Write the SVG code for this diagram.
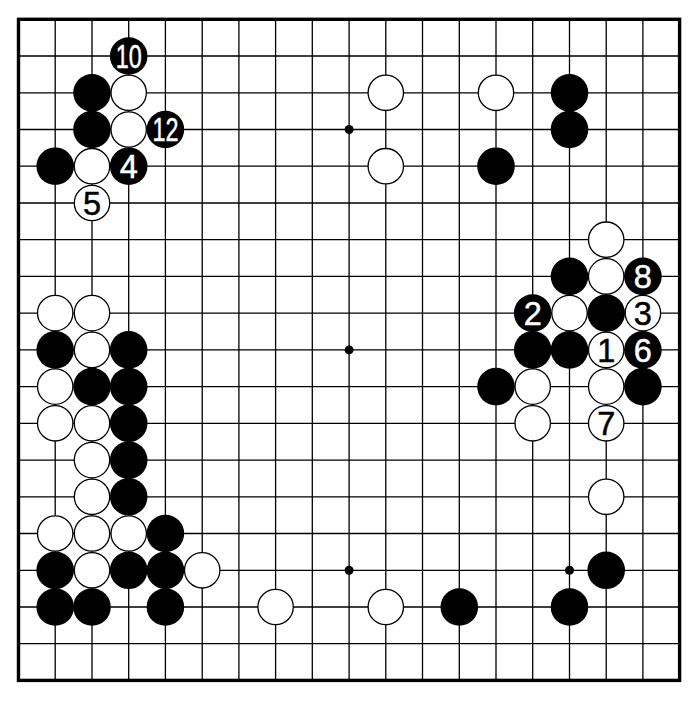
<svg xmlns="http://www.w3.org/2000/svg" width="700" height="701" viewBox="0 0 700 701">
<style>
.g{stroke:#000;stroke-width:1.3;fill:none}
.f{stroke:#000;stroke-width:3.4;fill:none}
.b{fill:#000}
.w{fill:#fff;stroke:#000;stroke-width:1.3}
.h{fill:#000}
.t{font-family:"Liberation Sans",Arial,sans-serif;font-size:32.5px;text-anchor:middle;stroke-width:0.5}
.tw{fill:#fff;stroke:#fff}
.tb{fill:#000;stroke:#000}
</style>
<rect width="700" height="701" fill="#fff"/>
<g id="board">
<path class="g" d="M55.2 19.3V680.4M92 19.3V680.4M128.7 19.3V680.4M165.4 19.3V680.4M202.2 19.3V680.4M238.9 19.3V680.4M275.6 19.3V680.4M312.3 19.3V680.4M349.1 19.3V680.4M385.8 19.3V680.4M422.5 19.3V680.4M459.3 19.3V680.4M496 19.3V680.4M532.7 19.3V680.4M569.5 19.3V680.4M606.2 19.3V680.4M642.9 19.3V680.4
M18.5 56H679.6M18.5 92.8H679.6M18.5 129.5H679.6M18.5 166.2H679.6M18.5 203H679.6M18.5 239.7H679.6M18.5 276.4H679.6M18.5 313.1H679.6M18.5 349.9H679.6M18.5 386.6H679.6M18.5 423.3H679.6M18.5 460.1H679.6M18.5 496.8H679.6M18.5 533.5H679.6M18.5 570.3H679.6M18.5 607H679.6M18.5 643.7H679.6"/>
<rect class="f" x="18.5" y="19.3" width="661.1" height="661.1"/>
<circle class="h" cx="349.1" cy="129.5" r="4.5"/>
<circle class="h" cx="349.1" cy="349.9" r="4.5"/>
<circle class="h" cx="349.1" cy="570.3" r="4.5"/>
<circle class="h" cx="569.5" cy="570.3" r="4.5"/>
</g>
<g id="black-stones">
<circle class="b" cx="92" cy="92.8" r="18.8"/>
<circle class="b" cx="92" cy="129.5" r="18.8"/>
<circle class="b" cx="55.2" cy="166.2" r="18.8"/>
<circle class="b" cx="569.5" cy="92.8" r="18.8"/>
<circle class="b" cx="569.5" cy="129.5" r="18.8"/>
<circle class="b" cx="496" cy="166.2" r="18.8"/>
<circle class="b" cx="569.5" cy="276.4" r="18.8"/>
<circle class="b" cx="606.2" cy="313.1" r="18.8"/>
<circle class="b" cx="532.7" cy="349.9" r="18.8"/>
<circle class="b" cx="569.5" cy="349.9" r="18.8"/>
<circle class="b" cx="496" cy="386.6" r="18.8"/>
<circle class="b" cx="642.9" cy="386.6" r="18.8"/>
<circle class="b" cx="606.2" cy="570.3" r="18.8"/>
<circle class="b" cx="569.5" cy="607" r="18.8"/>
<circle class="b" cx="459.3" cy="607" r="18.8"/>
<circle class="b" cx="55.2" cy="349.9" r="18.8"/>
<circle class="b" cx="128.7" cy="349.9" r="18.8"/>
<circle class="b" cx="92" cy="386.6" r="18.8"/>
<circle class="b" cx="128.7" cy="386.6" r="18.8"/>
<circle class="b" cx="128.7" cy="423.3" r="18.8"/>
<circle class="b" cx="128.7" cy="460.1" r="18.8"/>
<circle class="b" cx="128.7" cy="496.8" r="18.8"/>
<circle class="b" cx="165.4" cy="533.5" r="18.8"/>
<circle class="b" cx="55.2" cy="570.3" r="18.8"/>
<circle class="b" cx="128.7" cy="570.3" r="18.8"/>
<circle class="b" cx="165.4" cy="570.3" r="18.8"/>
<circle class="b" cx="55.2" cy="607" r="18.8"/>
<circle class="b" cx="92" cy="607" r="18.8"/>
<circle class="b" cx="165.4" cy="607" r="18.8"/>
</g>
<g id="white-stones">
<circle class="w" cx="128.7" cy="92.8" r="17.7"/>
<circle class="w" cx="128.7" cy="129.5" r="17.7"/>
<circle class="w" cx="92" cy="166.2" r="17.7"/>
<circle class="w" cx="385.8" cy="92.8" r="17.7"/>
<circle class="w" cx="385.8" cy="166.2" r="17.7"/>
<circle class="w" cx="496" cy="92.8" r="17.7"/>
<circle class="w" cx="606.2" cy="239.7" r="17.7"/>
<circle class="w" cx="606.2" cy="276.4" r="17.7"/>
<circle class="w" cx="569.5" cy="313.1" r="17.7"/>
<circle class="w" cx="532.7" cy="386.6" r="17.7"/>
<circle class="w" cx="606.2" cy="386.6" r="17.7"/>
<circle class="w" cx="532.7" cy="423.3" r="17.7"/>
<circle class="w" cx="606.2" cy="496.8" r="17.7"/>
<circle class="w" cx="55.2" cy="313.1" r="17.7"/>
<circle class="w" cx="92" cy="313.1" r="17.7"/>
<circle class="w" cx="92" cy="349.9" r="17.7"/>
<circle class="w" cx="55.2" cy="386.6" r="17.7"/>
<circle class="w" cx="55.2" cy="423.3" r="17.7"/>
<circle class="w" cx="92" cy="423.3" r="17.7"/>
<circle class="w" cx="92" cy="460.1" r="17.7"/>
<circle class="w" cx="92" cy="496.8" r="17.7"/>
<circle class="w" cx="55.2" cy="533.5" r="17.7"/>
<circle class="w" cx="92" cy="533.5" r="17.7"/>
<circle class="w" cx="128.7" cy="533.5" r="17.7"/>
<circle class="w" cx="92" cy="570.3" r="17.7"/>
<circle class="w" cx="202.2" cy="570.3" r="17.7"/>
<circle class="w" cx="275.6" cy="607" r="17.7"/>
<circle class="w" cx="385.8" cy="607" r="17.7"/>
</g>
<g id="move-1"><circle class="w" cx="606.2" cy="349.9" r="17.7"/><text class="t tb" x="606.2" y="361.5">1</text></g>
<g id="move-2"><circle class="b" cx="532.7" cy="313.1" r="18.8"/><text class="t tw" x="532.7" y="324.7">2</text></g>
<g id="move-3"><circle class="w" cx="642.9" cy="313.1" r="17.7"/><text class="t tb" x="642.9" y="324.7">3</text></g>
<g id="move-4"><circle class="b" cx="128.7" cy="166.2" r="18.8"/><text class="t tw" x="128.7" y="177.8">4</text></g>
<g id="move-5"><circle class="w" cx="92" cy="203" r="17.7"/><text class="t tb" x="92" y="214.6">5</text></g>
<g id="move-6"><circle class="b" cx="642.9" cy="349.9" r="18.8"/><text class="t tw" x="642.9" y="361.5">6</text></g>
<g id="move-7"><circle class="w" cx="606.2" cy="423.3" r="17.7"/><text class="t tb" x="606.2" y="434.9">7</text></g>
<g id="move-8"><circle class="b" cx="642.9" cy="276.4" r="18.8"/><text class="t tw" x="642.9" y="288">8</text></g>
<g id="move-10"><circle class="b" cx="128.7" cy="56" r="18.8"/><text class="t tw" x="128.7" y="67.6" textLength="26" lengthAdjust="spacingAndGlyphs">10</text></g>
<g id="move-12"><circle class="b" cx="165.4" cy="129.5" r="18.8"/><text class="t tw" x="165.4" y="141.1" textLength="26" lengthAdjust="spacingAndGlyphs">12</text></g>
</svg>
